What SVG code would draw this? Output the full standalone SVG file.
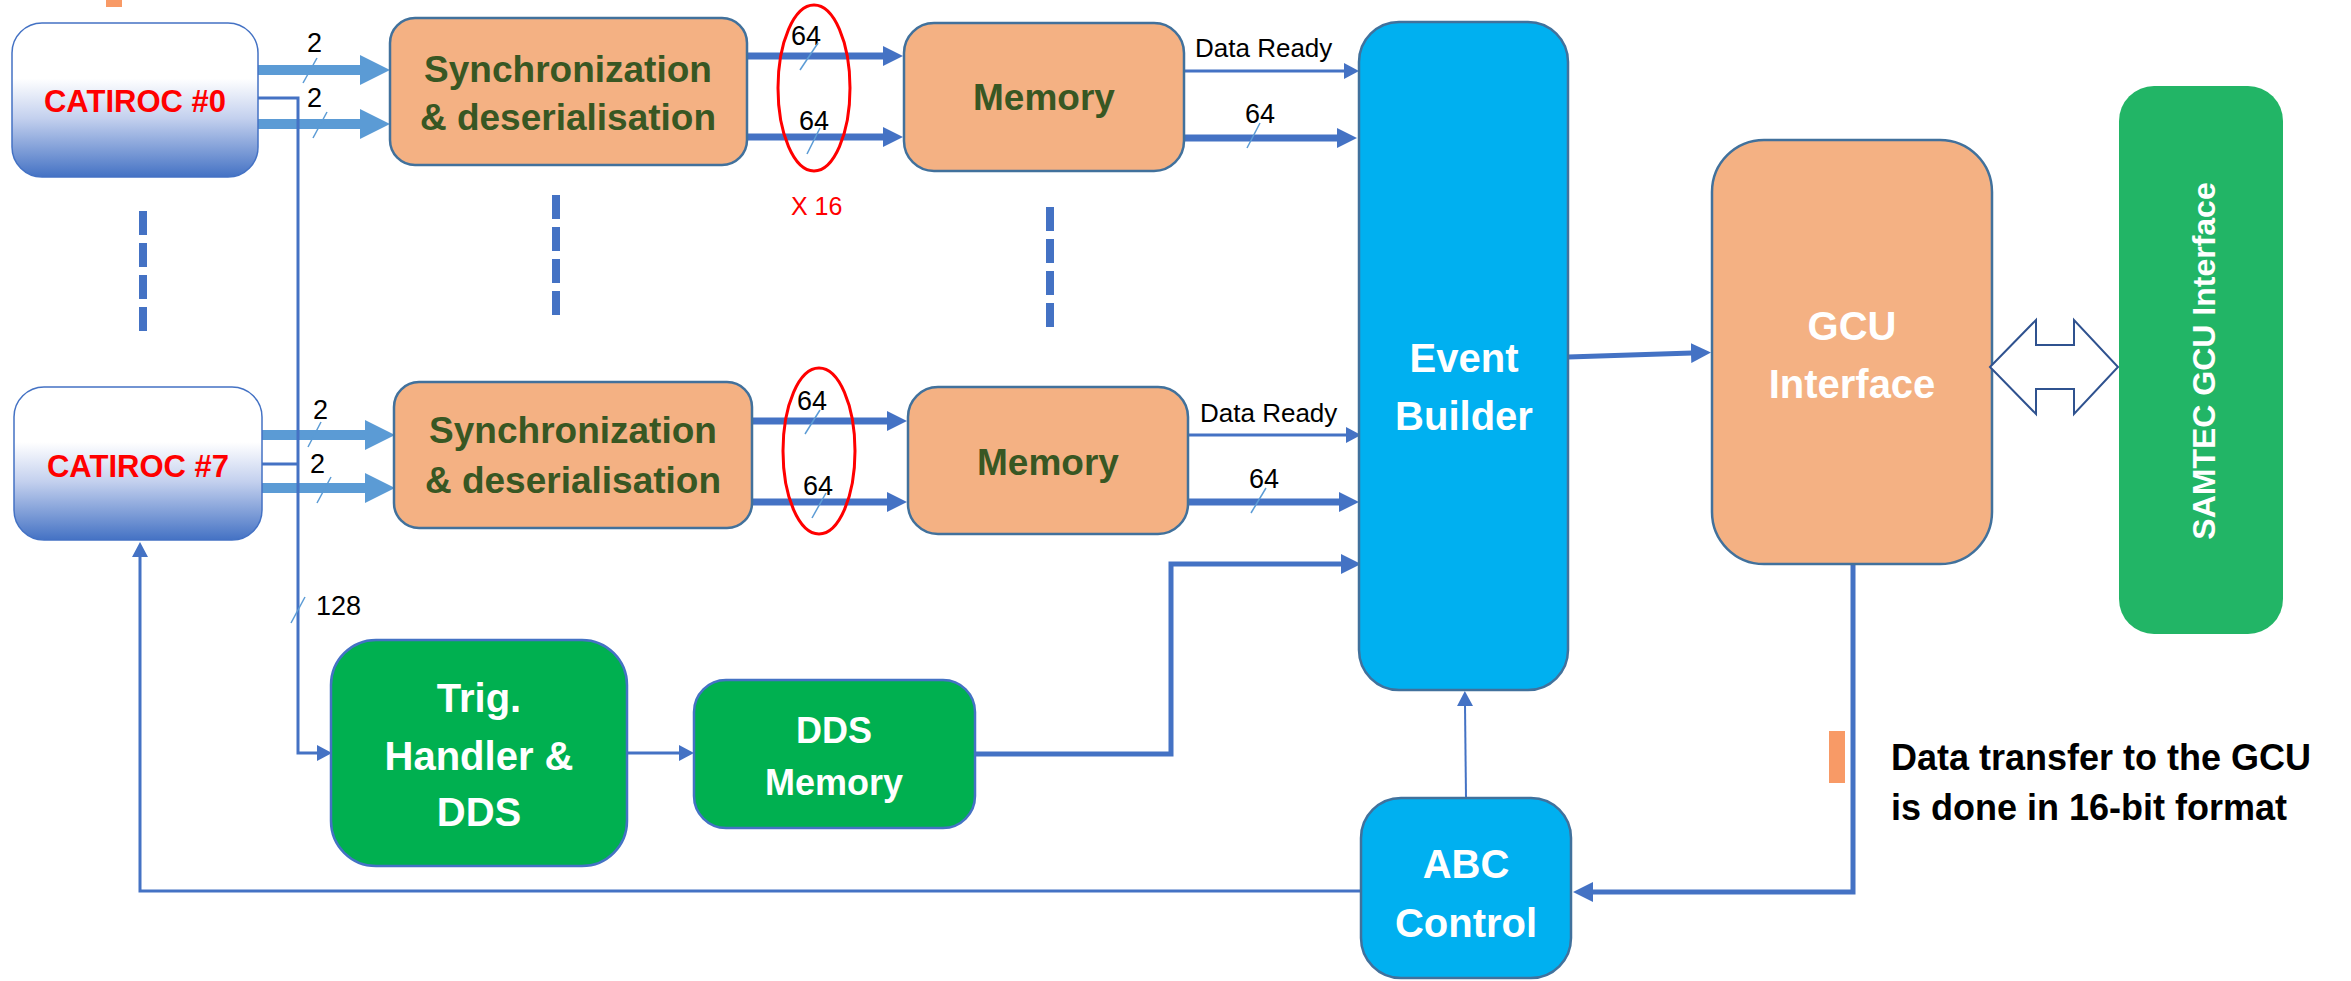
<svg xmlns="http://www.w3.org/2000/svg" width="2351" height="981" viewBox="0 0 2351 981">
  <defs>
    <linearGradient id="chipFill" x1="0" y1="0" x2="0" y2="1">
      <stop offset="0" stop-color="#ffffff"/>
      <stop offset="0.36" stop-color="#ffffff"/>
      <stop offset="0.62" stop-color="#c3d0ee"/>
      <stop offset="1" stop-color="#4472C4"/>
    </linearGradient>
    <!-- arrowheads: reference point sits on the base of the head -->
    <marker id="headWide" markerUnits="userSpaceOnUse" markerWidth="30" markerHeight="30" viewBox="0 0 30 30" refX="1" refY="15" orient="auto">
      <path d="M0,0 L30,15 L0,30 Z" fill="#5B9BD5"/>
    </marker>
    <marker id="headDark" markerUnits="userSpaceOnUse" markerWidth="20" markerHeight="20" viewBox="0 0 20 20" refX="1" refY="10" orient="auto">
      <path d="M0,0 L20,10 L0,20 Z" fill="#4472C4"/>
    </marker>
    <marker id="headThin" markerUnits="userSpaceOnUse" markerWidth="15" markerHeight="16" viewBox="0 0 15 16" refX="1" refY="8" orient="auto">
      <path d="M0,0 L15,8 L0,16 Z" fill="#4472C4"/>
    </marker>
  </defs>
  <style>
    .chip { fill: url(#chipFill); stroke: #4472C4; stroke-width: 1.5; }
    .orange { fill: #F4B183; stroke: #41719C; stroke-width: 2.5; }
    .green { fill: #00B050; stroke: #4472C4; stroke-width: 2.5; }
    .cyan { fill: #00B0F0; stroke: #41719C; stroke-width: 2.5; }
    .samtec { fill: #22B566; }
    .chipText { font-family: "Liberation Sans", Arial, sans-serif; font-weight: bold; font-size: 31px; fill: #FF0000; text-anchor: middle; }
    .olive { font-family: "Liberation Sans", Arial, sans-serif; font-weight: bold; font-size: 37px; fill: #385723; text-anchor: middle; }
    .white { font-family: "Liberation Sans", Arial, sans-serif; font-weight: bold; font-size: 40px; fill: #ffffff; text-anchor: middle; }
    .label { font-family: "Liberation Sans", Arial, sans-serif; font-size: 27px; fill: #000000; }
    .note { font-family: "Liberation Sans", Arial, sans-serif; font-weight: bold; font-size: 36px; fill: #000000; }
    .red { font-family: "Liberation Sans", Arial, sans-serif; font-size: 25px; fill: #FF0000; }
    .wide { stroke: #5B9BD5; stroke-width: 10; fill: none; marker-end: url(#headWide); }
    .bus { stroke: #4472C4; stroke-width: 7; fill: none; marker-end: url(#headDark); }
    .bus5 { stroke: #4472C4; stroke-width: 5; fill: none; }
    .wire { stroke: #4472C4; stroke-width: 3; fill: none; }
    .tick { stroke: #5B9BD5; stroke-width: 1.5; }
    .dash { stroke: #4472C4; stroke-width: 8; stroke-dasharray: 24 8; }
    .group { fill: none; stroke: #FF0000; stroke-width: 3; }
    .marker { fill: #F89A66; }
  </style>

  <!-- small orange tags -->
  <rect class="marker" x="106" y="0" width="16" height="7"/>
  <rect class="marker" x="1829" y="731" width="16" height="52"/>

  <!-- continuation dashes between channel 0 and channel 7 -->
  <line class="dash" x1="143" y1="211" x2="143" y2="331"/>
  <line class="dash" x1="556" y1="195" x2="556" y2="315"/>
  <line class="dash" x1="1050" y1="207" x2="1050" y2="327"/>

  <g id="connectors">
    <!-- CATIROC serial links into synchronisation -->
    <line class="wide" x1="258" y1="70" x2="361" y2="70"/>
    <line class="wide" x1="258" y1="124" x2="361" y2="124"/>
    <line class="wide" x1="262" y1="435" x2="366" y2="435"/>
    <line class="wide" x1="262" y1="488" x2="366" y2="488"/>

    <!-- trigger bus into the trigger handler -->
    <path class="wire" d="M258,98 H298 V753 H318" marker-end="url(#headThin)"/>
    <path class="wire" d="M262,464 H298"/>

    <!-- synchronisation to memory -->
    <line class="bus" x1="747" y1="56" x2="884" y2="56"/>
    <line class="bus" x1="747" y1="137" x2="884" y2="137"/>
    <line class="bus" x1="752" y1="421" x2="888" y2="421"/>
    <line class="bus" x1="752" y1="502" x2="888" y2="502"/>

    <!-- memory to event builder -->
    <line class="wire" x1="1184" y1="71" x2="1345" y2="71" marker-end="url(#headThin)"/>
    <line class="bus" x1="1184" y1="138" x2="1338" y2="138"/>
    <line class="wire" x1="1188" y1="435" x2="1347" y2="435" marker-end="url(#headThin)"/>
    <line class="bus" x1="1188" y1="502" x2="1340" y2="502"/>

    <!-- trigger handler to DDS memory to event builder -->
    <line class="wire" x1="627" y1="753" x2="680" y2="753" marker-end="url(#headThin)"/>
    <path class="bus5" d="M975,754 H1171 V564 H1342" marker-end="url(#headDark)"/>

    <!-- event builder to GCU interface -->
    <line class="bus5" x1="1568" y1="357" x2="1692" y2="353" marker-end="url(#headDark)"/>

    <!-- GCU interface back to ABC control -->
    <path class="bus5" d="M1853,564 V892 H1592" marker-end="url(#headDark)"/>

    <!-- ABC control to event builder and CATIROC -->
    <line class="wire" x1="1466" y1="798" x2="1465" y2="705" style="stroke-width:2px" marker-end="url(#headThin)"/>
    <path class="wire" d="M1361,891 H140 V556" marker-end="url(#headThin)"/>

    <!-- bus width ticks and labels -->
    <text class="label" x="307" y="52">2</text>
    <line class="tick" x1="317" y1="58" x2="303" y2="83"/>
    <text class="label" x="307" y="107">2</text>
    <line class="tick" x1="327" y1="112" x2="313" y2="138"/>
    <text class="label" x="313" y="419">2</text>
    <line class="tick" x1="321" y1="422" x2="308" y2="447"/>
    <text class="label" x="310" y="473">2</text>
    <line class="tick" x1="331" y1="477" x2="317" y2="503"/>

    <text class="label" x="791" y="45">64</text>
    <line class="tick" x1="818" y1="43" x2="800" y2="70"/>
    <text class="label" x="799" y="130">64</text>
    <line class="tick" x1="820" y1="128" x2="807" y2="154"/>
    <text class="label" x="797" y="410">64</text>
    <line class="tick" x1="820" y1="410" x2="805" y2="434"/>
    <text class="label" x="803" y="495">64</text>
    <line class="tick" x1="826" y1="493" x2="812" y2="518"/>

    <text class="label" x="1195" y="57" style="font-size:26px">Data Ready</text>
    <text class="label" x="1245" y="123">64</text>
    <line class="tick" x1="1260" y1="123" x2="1247" y2="148"/>
    <text class="label" x="1200" y="422" style="font-size:26px">Data Ready</text>
    <text class="label" x="1249" y="488">64</text>
    <line class="tick" x1="1266" y1="488" x2="1251" y2="513"/>

    <text class="label" x="316" y="615">128</text>
    <line class="tick" x1="305" y1="597" x2="291" y2="623"/>
  </g>

  <!-- channel grouping rings -->
  <ellipse class="group" cx="814" cy="88" rx="36" ry="83"/>
  <ellipse class="group" cx="819" cy="451" rx="36" ry="83"/>
  <text class="red" x="791" y="215">X 16</text>

  <g id="catiroc0">
    <rect class="chip" x="12" y="23" width="246" height="154" rx="30"/>
    <text class="chipText" x="135" y="112">CATIROC #0</text>
  </g>
  <g id="catiroc7">
    <rect class="chip" x="14" y="387" width="248" height="153" rx="30"/>
    <text class="chipText" x="138" y="477">CATIROC #7</text>
  </g>

  <g id="sync0">
    <rect class="orange" x="390" y="18" width="357" height="147" rx="25"/>
    <text class="olive" x="568" y="82">Synchronization</text>
    <text class="olive" x="568" y="130">&amp; deserialisation</text>
  </g>
  <g id="sync7">
    <rect class="orange" x="394" y="382" width="358" height="146" rx="25"/>
    <text class="olive" x="573" y="443">Synchronization</text>
    <text class="olive" x="573" y="493">&amp; deserialisation</text>
  </g>

  <g id="memory0">
    <rect class="orange" x="904" y="23" width="280" height="148" rx="30"/>
    <text class="olive" x="1044" y="110">Memory</text>
  </g>
  <g id="memory7">
    <rect class="orange" x="908" y="387" width="280" height="147" rx="30"/>
    <text class="olive" x="1048" y="475">Memory</text>
  </g>

  <g id="trigHandler">
    <rect class="green" x="331" y="640" width="296" height="226" rx="45"/>
    <text class="white" x="479" y="712">Trig.</text>
    <text class="white" x="479" y="770">Handler &amp;</text>
    <text class="white" x="479" y="826">DDS</text>
  </g>

  <g id="ddsMemory">
    <rect class="green" x="694" y="680" width="281" height="148" rx="32"/>
    <text class="white" x="834" y="743" style="font-size:36px">DDS</text>
    <text class="white" x="834" y="795" style="font-size:36px">Memory</text>
  </g>

  <g id="eventBuilder">
    <rect class="cyan" x="1359" y="22" width="209" height="668" rx="40"/>
    <text class="white" x="1464" y="372">Event</text>
    <text class="white" x="1464" y="430">Builder</text>
  </g>

  <g id="abcControl">
    <rect class="cyan" x="1361" y="798" width="210" height="180" rx="40"/>
    <text class="white" x="1466" y="878">ABC</text>
    <text class="white" x="1466" y="937">Control</text>
  </g>

  <g id="gcuInterface">
    <rect class="orange" x="1712" y="140" width="280" height="424" rx="52"/>
    <text class="white" x="1852" y="340">GCU</text>
    <text class="white" x="1852" y="398">Interface</text>
  </g>

  <g id="gcuLink">
    <polygon points="1990,367 2036,320 2036,345 2074,345 2074,320 2118,367 2074,414 2074,389 2036,389 2036,414" fill="#ffffff" stroke="#2F528F" stroke-width="2"/>
  </g>

  <g id="samtec">
    <rect class="samtec" x="2119" y="86" width="164" height="548" rx="35"/>
    <text class="white" style="font-size:32px" transform="translate(2215,361) rotate(-90)">SAMTEC GCU Interface</text>
  </g>

  <g id="transferNote">
    <text class="note" x="1891" y="770">Data transfer to the GCU</text>
    <text class="note" x="1891" y="820">is done in 16-bit format</text>
  </g>
</svg>
